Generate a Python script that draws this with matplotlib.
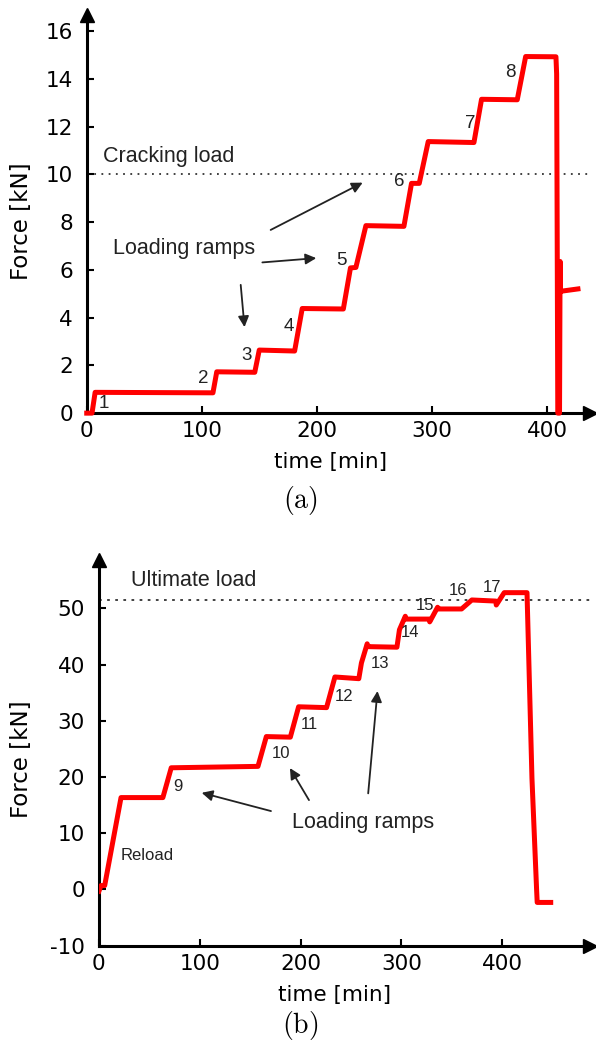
import matplotlib
matplotlib.use("Agg")
import matplotlib.pyplot as plt

# panel (a): first loading
t_a = [0, 4.6, 7.3, 109.6, 112.9, 145.9, 149.8, 180.5, 187.1, 222.8, 229.0, 233.7,
       242.4, 275.4, 282.0, 288.7, 296.5, 336.2, 342.8, 373.8, 381.1, 407.4, 408.0,
       409.0, 410.5, 411.0, 411.3, 426.5]
F_a = [0, 0, 0.87, 0.85, 1.73, 1.71, 2.64, 2.60, 4.38, 4.36, 6.08, 6.10,
       7.85, 7.82, 9.62, 9.62, 11.37, 11.33, 13.14, 13.12, 14.93, 14.92, 14.2,
       0, 0, 6.35, 5.10, 5.20]
ramp_lbl_a = ["1", "2", "3", "4", "5", "6", "7", "8"]
ramp_t_a = [14.9, 101, 139, 175.6, 221, 271, 333.3, 368]
ramp_F_a = [0.4, 1.45, 2.43, 3.62, 6.39, 9.69, 12.13, 14.25]
cracking = 10.0

# panel (b): reload to failure
t_b = [0, 2, 5.7, 21.9, 63.4, 71.7, 157.7, 166, 189.8, 198, 225.7, 234, 257.7, 260.3,
       266, 267, 295.5, 298, 303.8, 304.5, 327.5, 328, 335.8, 337, 359.6, 369.8,
       393.6, 394, 401.9, 424.5, 429.4, 434, 434.6, 448]
F_b = [-0.3, 0.7, 0.7, 16.35, 16.35, 21.65, 21.9, 27.2, 27.1, 32.5, 32.35, 37.8, 37.5, 40.3,
       43.7, 43.2, 43.1, 46.2, 48.6, 48.1, 48.1, 47.6, 50.2, 49.9, 49.9, 51.5,
       51.3, 50.6, 52.8, 52.8, 19.8, 0, -2.3, -2.3]
ramp_lbl_b = ["9", "10", "11", "12", "13", "14", "15", "16", "17"]
ramp_t_b = [78.5, 180.4, 209, 243.4, 279, 308.7, 323, 356, 390]
ramp_F_b = [18.4, 24.2, 29.4, 34.4, 40.2, 45.8, 50.6, 53.1, 53.7]
ultimate = 51.5

TXT = "Liberation Sans"
TICK = "DejaVu Sans"
plt.rcParams["axes.unicode_minus"] = False
plt.rcParams["mathtext.fontset"] = "cm"


def style_axes(ax, xmax, ylo, yhi, yticks):
    ax.set_xlim(0, xmax)
    ax.set_ylim(ylo, yhi)
    for s in ["top", "right"]:
        ax.spines[s].set_visible(False)
    for s in ["left", "bottom"]:
        ax.spines[s].set_linewidth(2.2)
    ax.set_xticks([0, 100, 200, 300, 400])
    ax.set_yticks(yticks)
    ax.tick_params(direction="in", length=5, width=1.5, labelsize=15.5)
    ax.tick_params(axis="x", pad=6)
    ax.tick_params(axis="y", pad=10)
    for lab in ax.get_xticklabels() + ax.get_yticklabels():
        lab.set_family(TICK)
    ax.plot(0, 1, "^k", ms=10, transform=ax.transAxes, clip_on=False)
    ax.plot(1, 0, ">k", ms=10, transform=ax.transAxes, clip_on=False)
    ax.set_xlabel("time [min]", fontsize=15.5, family=TICK)
    ax.set_ylabel("Force [kN]", fontsize=16.5, family=TICK)


def arrow(ax, tail, head):
    ax.annotate("", xy=head, xytext=tail,
                arrowprops=dict(arrowstyle="-|>", color="#222222", lw=1.3,
                                mutation_scale=16, shrinkA=0, shrinkB=0))


fig = plt.figure(figsize=(5.96, 10.48), dpi=100)

# ---- (a)
ax1 = fig.add_axes([0.1455, 0.6058, 0.8445, 0.3799])
style_axes(ax1, 437, 0, 16.67, [0, 2, 4, 6, 8, 10, 12, 14, 16])
ax1.axhline(cracking, color="#333333", ls=(0, (1, 3)), lw=1.3, zorder=1)
ax1.plot(t_a, F_a, color="#ff0000", lw=3.6, zorder=3, clip_on=False)
ax1.text(14.4, 10.74, "Cracking load", fontsize=15.5, family=TXT, color="#222222", va="center")
ax1.text(23, 6.9, "Loading ramps", fontsize=15.5, family=TXT, color="#222222", va="center")
for lbl, t, f in zip(ramp_lbl_a, ramp_t_a, ramp_F_a):
    ax1.text(t, f, lbl, fontsize=13.5, family=TXT, color="#222222", ha="center", va="center")
arrow(ax1, (133.7, 5.37), (137, 3.6))
arrow(ax1, (152.5, 6.31), (199.3, 6.49))
arrow(ax1, (159.7, 7.67), (239.6, 9.65))
ax1.xaxis.set_label_coords(0.485, -0.097)
ax1.yaxis.set_label_coords(-0.107, 0.482)

# ---- (b)
ax2 = fig.add_axes([0.166, 0.0976, 0.824, 0.368])
style_axes(ax2, 487, -10, 58.6, [-10, 0, 10, 20, 30, 40, 50])
ax2.axhline(ultimate, color="#333333", ls=(0, (1.5, 3)), lw=1.3, zorder=1)
ax2.plot(t_b, F_b, color="#ff0000", lw=3.6, zorder=3)
ax2.text(32, 54.9, "Ultimate load", fontsize=15.5, family=TXT, color="#222222", va="center")
ax2.text(191.7, 12.0, "Loading ramps", fontsize=15.5, family=TXT, color="#222222", va="center")
ax2.text(21.9, 6.1, "Reload", fontsize=12, family=TXT, color="#222222", va="center")
for lbl, t, f in zip(ramp_lbl_b, ramp_t_b, ramp_F_b):
    ax2.text(t, f, lbl, fontsize=12, family=TXT, color="#222222", ha="center", va="center")
arrow(ax2, (170.6, 13.95), (101.9, 17.2))
arrow(ax2, (208.3, 15.9), (189.4, 21.6))
arrow(ax2, (267, 17.1), (276.2, 35.3))
ax2.xaxis.set_label_coords(0.48, -0.103)
ax2.yaxis.set_label_coords(-0.134, 0.484)

fig.text(300 / 596, 1 - 500 / 1048, r"$\mathrm{(a)}$", fontsize=20, ha="center", va="center")
fig.text(300 / 596, 1 - 1025 / 1048, r"$\mathrm{(b)}$", fontsize=20, ha="center", va="center")

fig.savefig("out.png", dpi=100)
